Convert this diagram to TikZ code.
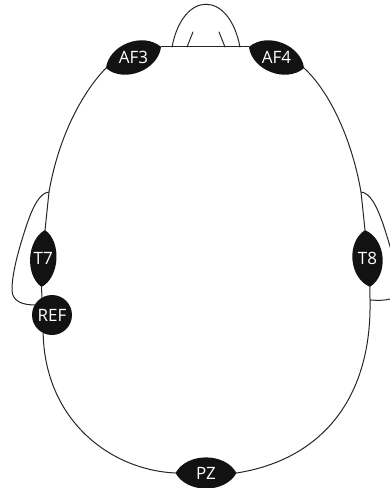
\documentclass[tikz,border=0pt]{standalone}
\usepackage{fontspec}
\setmainfont{Open Sans}
\begin{document}
\begin{tikzpicture}[x=1pt,y=-1pt,
  outline/.style={line width=1pt,draw=black!85,line cap=round},
  electrode/.style={fill=black!93},
  elabel/.style={text=white,font=\fontsize{17}{17}\selectfont,inner sep=0pt},
  pics/lens/.style n args={3}{code={
    \fill[electrode] (-#1,0) .. controls ({-0.62*#1},{1.3*#2}) and ({0.62*#1},{1.3*#2}) .. (#1,0)
                     .. controls ({0.62*#1},{-1.3*#2}) and ({-0.62*#1},{-1.3*#2}) .. cycle;
    \coordinate (-a) at (-#1,0);
    \coordinate (-b) at (#1,0);
    \node[elabel] (-c) at (0,0) {#3};
  }}]
\useasboundingbox (0,0) rectangle (390,488);
\clip (0,0) rectangle (390,488);

% nose
\draw[outline] (172,47) .. controls (183,-10) and (229,-10) .. (240,47);
\draw[outline] (187,47) -- (193,32);
\draw[outline] (225,47) -- (219,32);

% electrodes
\pic[rotate=21]   (af3) at (133.5,57.5) {lens={29.5}{16}{AF3}};
\pic[rotate=-21]  (af4) at (276.5,57.5) {lens={29.5}{16}{AF4}};
\pic[rotate=86.5] (t7)  at (43.3,258.5) {lens={28.5}{13.5}{T7}};
\pic[rotate=95]   (t8)  at (367.5,258.5) {lens={28.5}{15.5}{T8}};
\pic              (pz)  at (206,473) {lens={30.5}{16}{PZ}};
\node[circle,fill=black!93,minimum size=40pt,inner sep=0pt,elabel] (ref) at (52,315) {REF};

% junction points of the ears
\coordinate (lj) at (49,192);
\coordinate (rj) at (361,192);
\coordinate (rl) at (370,300);

% head outline
\draw[outline] (af3-b) -- (af4-a);
\draw[outline] (af3-a) .. controls (80,95) and (58,140) .. (lj) -- (t7-b);
\draw[outline] (t7-a) -- (ref.120);
\draw[outline] (ref.244) .. controls (45,420) and (110,470) .. (pz-a);
\draw[outline] (pz-b) .. controls (320,460) and (372,400) .. (rl) -- (t8-a);
\draw[outline] (t8-b) -- (rj) .. controls (352,140) and (330,92) .. (af4-b);

% ears
\draw[outline] (lj) .. controls (40,193) and (33,205) .. (25,230)
  .. controls (17,255) and (12,275) .. (12,290)
  .. controls (12,302) and (24,305) .. (ref.150);
\draw[outline] (rj) .. controls (370,193) and (377,205) .. (385,230)
  .. controls (393,255) and (398,275) .. (398,290)
  .. controls (398,300) and (385,301) .. (rl);
\end{tikzpicture}
\end{document}
